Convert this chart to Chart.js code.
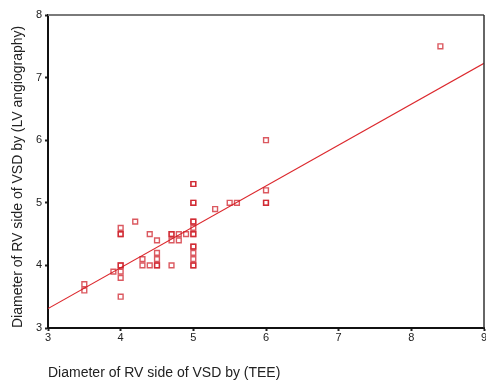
<!DOCTYPE html>
<html>
<head>
<meta charset="utf-8">
<script src="https://cdn.jsdelivr.net/npm/chart.js@4/dist/chart.umd.min.js"></script>
<style>
  html, body { margin: 0; padding: 0; background: #fff; overflow: hidden; }
  #wrap { position: absolute; left: 0; top: 0; width: 500px; height: 382px; }
</style>
</head>
<body>
<div id="wrap"><canvas id="chart"></canvas></div>
<script>
/* ---------- DATA ---------- */
// TEE diameter (x) and LV angiography diameter (y); repeated pairs are overlapping points
const teeValues = [
  3.5, 3.5, 3.9,
  4, 4, 4, 4, 4, 4, 4, 4,
  4.2, 4.3, 4.3, 4.4, 4.4,
  4.5, 4.5, 4.5, 4.5, 4.5,
  4.7, 4.7, 4.7, 4.7, 4.8, 4.8, 4.9,
  5, 5, 5, 5, 5, 5, 5, 5, 5, 5, 5, 5, 5, 5, 5,
  5.3, 5.5, 5.6,
  6, 6, 6, 6,
  8.4
];
const angioValues = [
  3.7, 3.6, 3.9,
  4.6, 4.5, 4.5, 4.0, 4.0, 3.9, 3.8, 3.5,
  4.7, 4.1, 4.0, 4.5, 4.0,
  4.4, 4.2, 4.1, 4.0, 4.0,
  4.5, 4.5, 4.4, 4.0, 4.5, 4.4, 4.5,
  5.3, 5.3, 5.0, 5.0, 4.7, 4.7, 4.6, 4.5, 4.5, 4.3, 4.3, 4.2, 4.1, 4.0, 4.0,
  4.9, 5.0, 5.0,
  6.0, 5.2, 5.0, 5.0,
  7.5
];
// fitted line, read at the two ends of the x axis
const fitX = [3, 9];
const fitY = [3.31, 7.23];

const xTicks = [3, 4, 5, 6, 7, 8, 9];
const yTicks = [3, 4, 5, 6, 7, 8];

/* ---------- CHART ---------- */
const points = teeValues.map((x, i) => ({ x, y: angioValues[i] }));
const fitPoints = fitX.map((x, i) => ({ x, y: fitY[i] }));

const frame = {
  id: "frame",
  afterDatasetsDraw(chart) {
    const { ctx, chartArea: a } = chart;
    ctx.save();
    ctx.strokeStyle = "#7a7a7a";
    ctx.lineWidth = 2;
    ctx.beginPath();
    ctx.moveTo(a.left, a.top);
    ctx.lineTo(a.right, a.top);
    ctx.stroke();
    ctx.strokeStyle = "#333";
    ctx.lineWidth = 1.5;
    ctx.beginPath();
    ctx.moveTo(a.right, a.top);
    ctx.lineTo(a.right, a.bottom);
    ctx.stroke();
    ctx.restore();
  }
};

const tickFont = { family: "'Liberation Sans', Arial, sans-serif", size: 11 };
const titleFont = { family: "'Liberation Sans', Arial, sans-serif", size: 14 };

new Chart(document.getElementById("chart"), {
  data: {
    datasets: [
      {
        type: "line",
        data: fitPoints,
        borderColor: "rgb(220,40,45)",
        borderWidth: 1.2,
        pointRadius: 0,
        fill: false,
        order: 2
      },
      {
        type: "scatter",
        data: points,
        pointStyle: "rect",
        pointRadius: 3.4,
        pointBorderWidth: 1.4,
        pointBackgroundColor: "rgba(255,255,255,0)",
        pointBorderColor: "rgba(205,25,35,0.72)",
        order: 1
      }
    ]
  },
  options: {
    responsive: true,
    maintainAspectRatio: false,
    animation: false,
    layout: { padding: { top: 15, right: 16, left: 0, bottom: 0 } },
    plugins: {
      legend: { display: false },
      tooltip: { enabled: false }
    },
    scales: {
      x: {
        type: "linear",
        min: 3,
        max: 9,
        afterBuildTicks: s => { s.ticks = xTicks.map(v => ({ value: v })); },
        afterFit: s => { s.height = 54; },
        grid: { drawOnChartArea: false, drawTicks: true, tickLength: 3, tickWidth: 2, tickColor: "#222" },
        border: { color: "#111", width: 2 },
        ticks: { font: tickFont, color: "#222", padding: 0, maxRotation: 0 },
        title: {
          display: true,
          text: "Diameter of RV side of VSD by (TEE)",
          align: "start",
          font: titleFont,
          color: "#222",
          padding: { top: 0, bottom: 0 }
        }
      },
      y: {
        type: "linear",
        min: 3,
        max: 8,
        afterBuildTicks: s => { s.ticks = yTicks.map(v => ({ value: v })); },
        afterFit: s => { s.width = 48; },
        grid: { drawOnChartArea: false, drawTicks: true, tickLength: 3, tickWidth: 2, tickColor: "#222" },
        border: { color: "#111", width: 2 },
        ticks: { font: tickFont, color: "#222", padding: 3 },
        title: {
          display: true,
          text: "Diameter of RV side of VSD by (LV angiography)",
          align: "start",
          font: titleFont,
          color: "#222",
          padding: { top: 10, bottom: 0 }
        }
      }
    }
  },
  plugins: [frame]
});
</script>
</body>
</html>
